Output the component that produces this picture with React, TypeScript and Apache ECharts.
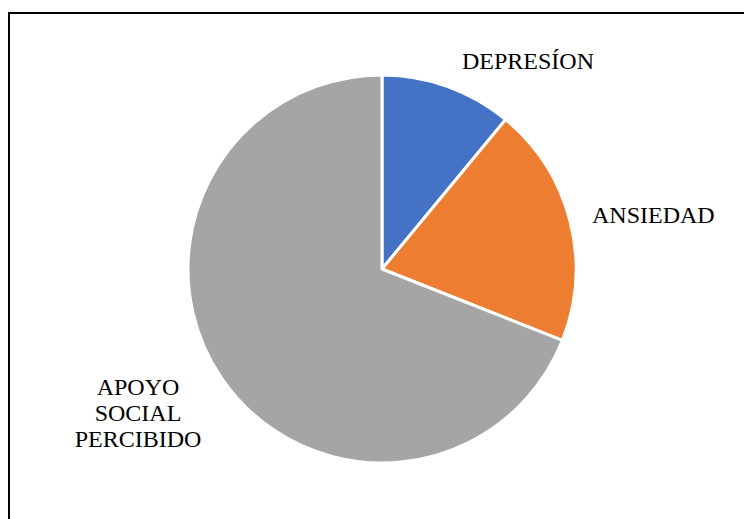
import React, { useEffect, useRef } from "react";
import * as echarts from "echarts";

const categories = ["DEPRESÍON", "ANSIEDAD", "APOYO SOCIAL PERCIBIDO"];
const values = [11, 20, 69];
const colors = ["#4472C4", "#ED7D31", "#A5A5A5"];

export default function App() {
  const ref = useRef<HTMLDivElement>(null);
  useEffect(() => {
    if (!ref.current) return;
    const chart = echarts.init(ref.current, undefined, { renderer: "svg" });
    const textStyle = {
      fontFamily: "Liberation Serif",
      fontSize: 24,
      fill: "#000",
    };
    chart.setOption({
      animation: false,
      backgroundColor: "#ffffff",
      series: [
        {
          type: "pie",
          center: [382, 269],
          radius: 194,
          startAngle: 90,
          clockwise: true,
          label: { show: false },
          labelLine: { show: false },
          itemStyle: { borderColor: "#ffffff", borderWidth: 3 },
          emphasis: { disabled: true },
          data: categories.map((name, i) => ({
            name,
            value: values[i],
            itemStyle: { color: colors[i] },
          })),
        },
      ],
      graphic: [
        {
          type: "rect",
          shape: { x: 9, y: 13, width: 900, height: 900 },
          style: { fill: "none", stroke: "#000", lineWidth: 2 },
          silent: true,
        },
        {
          type: "text",
          x: 462,
          y: 61,
          style: {
            ...textStyle,
            text: categories[0],
            textAlign: "left",
            textVerticalAlign: "middle",
          },
        },
        {
          type: "text",
          x: 592,
          y: 215,
          style: {
            ...textStyle,
            text: categories[1],
            textAlign: "left",
            textVerticalAlign: "middle",
          },
        },
        {
          type: "text",
          x: 138,
          y: 413,
          style: {
            ...textStyle,
            text: "APOYO\nSOCIAL\nPERCIBIDO",
            lineHeight: 26,
            textAlign: "center",
            textVerticalAlign: "middle",
          },
        },
      ],
    });
    return () => chart.dispose();
  }, []);
  return (
    <div
      ref={ref}
      style={{ position: "fixed", left: 0, top: 0, width: 744, height: 519 }}
    />
  );
}
